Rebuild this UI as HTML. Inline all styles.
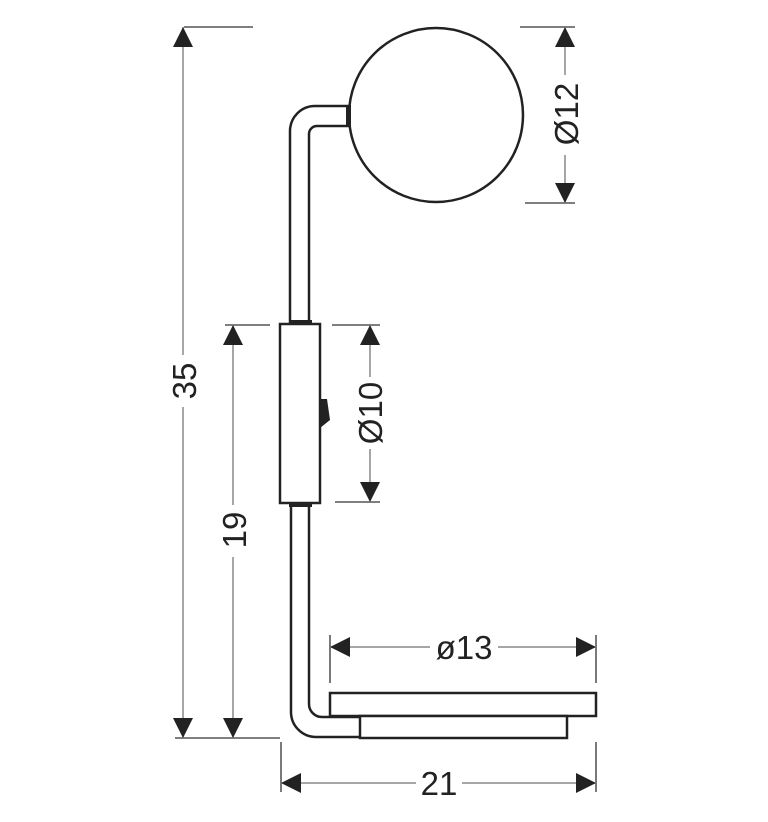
<!DOCTYPE html>
<html><head><style>body{margin:0;background:#fff}svg{display:block}</style></head><body>
<svg width="768" height="822" viewBox="0 0 768 822" xmlns="http://www.w3.org/2000/svg">
<defs>
<marker id="a" viewBox="0 0 20 20" refX="20" refY="10" markerWidth="20" markerHeight="20" markerUnits="userSpaceOnUse" orient="auto"><path d="M0,0 L20,10 L0,20 Z" fill="#222"/></marker>
</defs>
<g fill="none" stroke="#222" stroke-width="2.5">
<circle cx="436" cy="115" r="87" fill="#fff"/>
<path d="M290,324 V131 A25,25 0 0 1 315,106 H350"/>
<path d="M309,324 V134 A8,8 0 0 1 317,126 H350"/>
<rect x="280" y="324" width="40" height="179" fill="#fff"/>
<path d="M291,503 V712 A25,25 0 0 0 316,737 H360"/>
<path d="M309,503 V704 A13,13 0 0 0 322,717 H360"/>
<rect x="330" y="693" width="266" height="23" fill="#fff"/>
<rect x="360" y="716" width="207" height="22" fill="#fff"/>
</g>
<rect x="346" y="105" width="5" height="22" fill="#222"/>
<rect x="289" y="320" width="23" height="5" fill="#222"/>
<rect x="289" y="502" width="23" height="5" fill="#222"/>
<path d="M320,399 L327,399 L330,420 L320,428 Z" fill="#222"/>
<g stroke="#333" stroke-width="1.3" fill="none">
<path d="M184,27 H253 M175,738 H280 M225,325 H270 M332,325 H380 M335,502 H380 M520,27 H575 M525,203 H575 M330,635 V683 M596,635 V683 M281,742 V792 M596,742 V792"/>
</g>
<g stroke="#888" stroke-width="1.5" marker-start="url(#a)" marker-end="url(#a)" fill="none">
<line x1="183" y1="380" x2="183" y2="27"/><line x1="183" y1="380" x2="183" y2="738"/>
<line x1="233" y1="525" x2="233" y2="325"/><line x1="233" y1="525" x2="233" y2="738"/>
<line x1="370" y1="412" x2="370" y2="325"/><line x1="370" y1="412" x2="370" y2="502"/>
<line x1="565" y1="115" x2="565" y2="27"/><line x1="565" y1="115" x2="565" y2="203"/>
<line x1="463" y1="647" x2="330" y2="647"/><line x1="463" y1="647" x2="596" y2="647"/>
<line x1="438" y1="783" x2="281" y2="783"/><line x1="438" y1="783" x2="596" y2="783"/>
</g>
<g fill="#fff">
<rect x="170" y="355" width="28" height="52"/><rect x="220" y="505" width="28" height="52"/>
<rect x="355" y="377" width="30" height="72"/><rect x="550" y="75" width="30" height="80"/>
<rect x="430" y="632" width="68" height="32"/><rect x="416" y="765" width="46" height="34"/>
</g>
<g font-family="Liberation Sans, sans-serif" font-size="33" fill="#222" text-anchor="middle">
<text transform="translate(196,381) rotate(-90)">35</text>
<text transform="translate(246,530) rotate(-90)">19</text>
<text transform="translate(382,413) rotate(-90)">Ø10</text>
<text transform="translate(578,114) rotate(-90)">Ø12</text>
<text x="464" y="659">ø13</text>
<text x="439" y="795">21</text>
</g>
</svg>
</body></html>
